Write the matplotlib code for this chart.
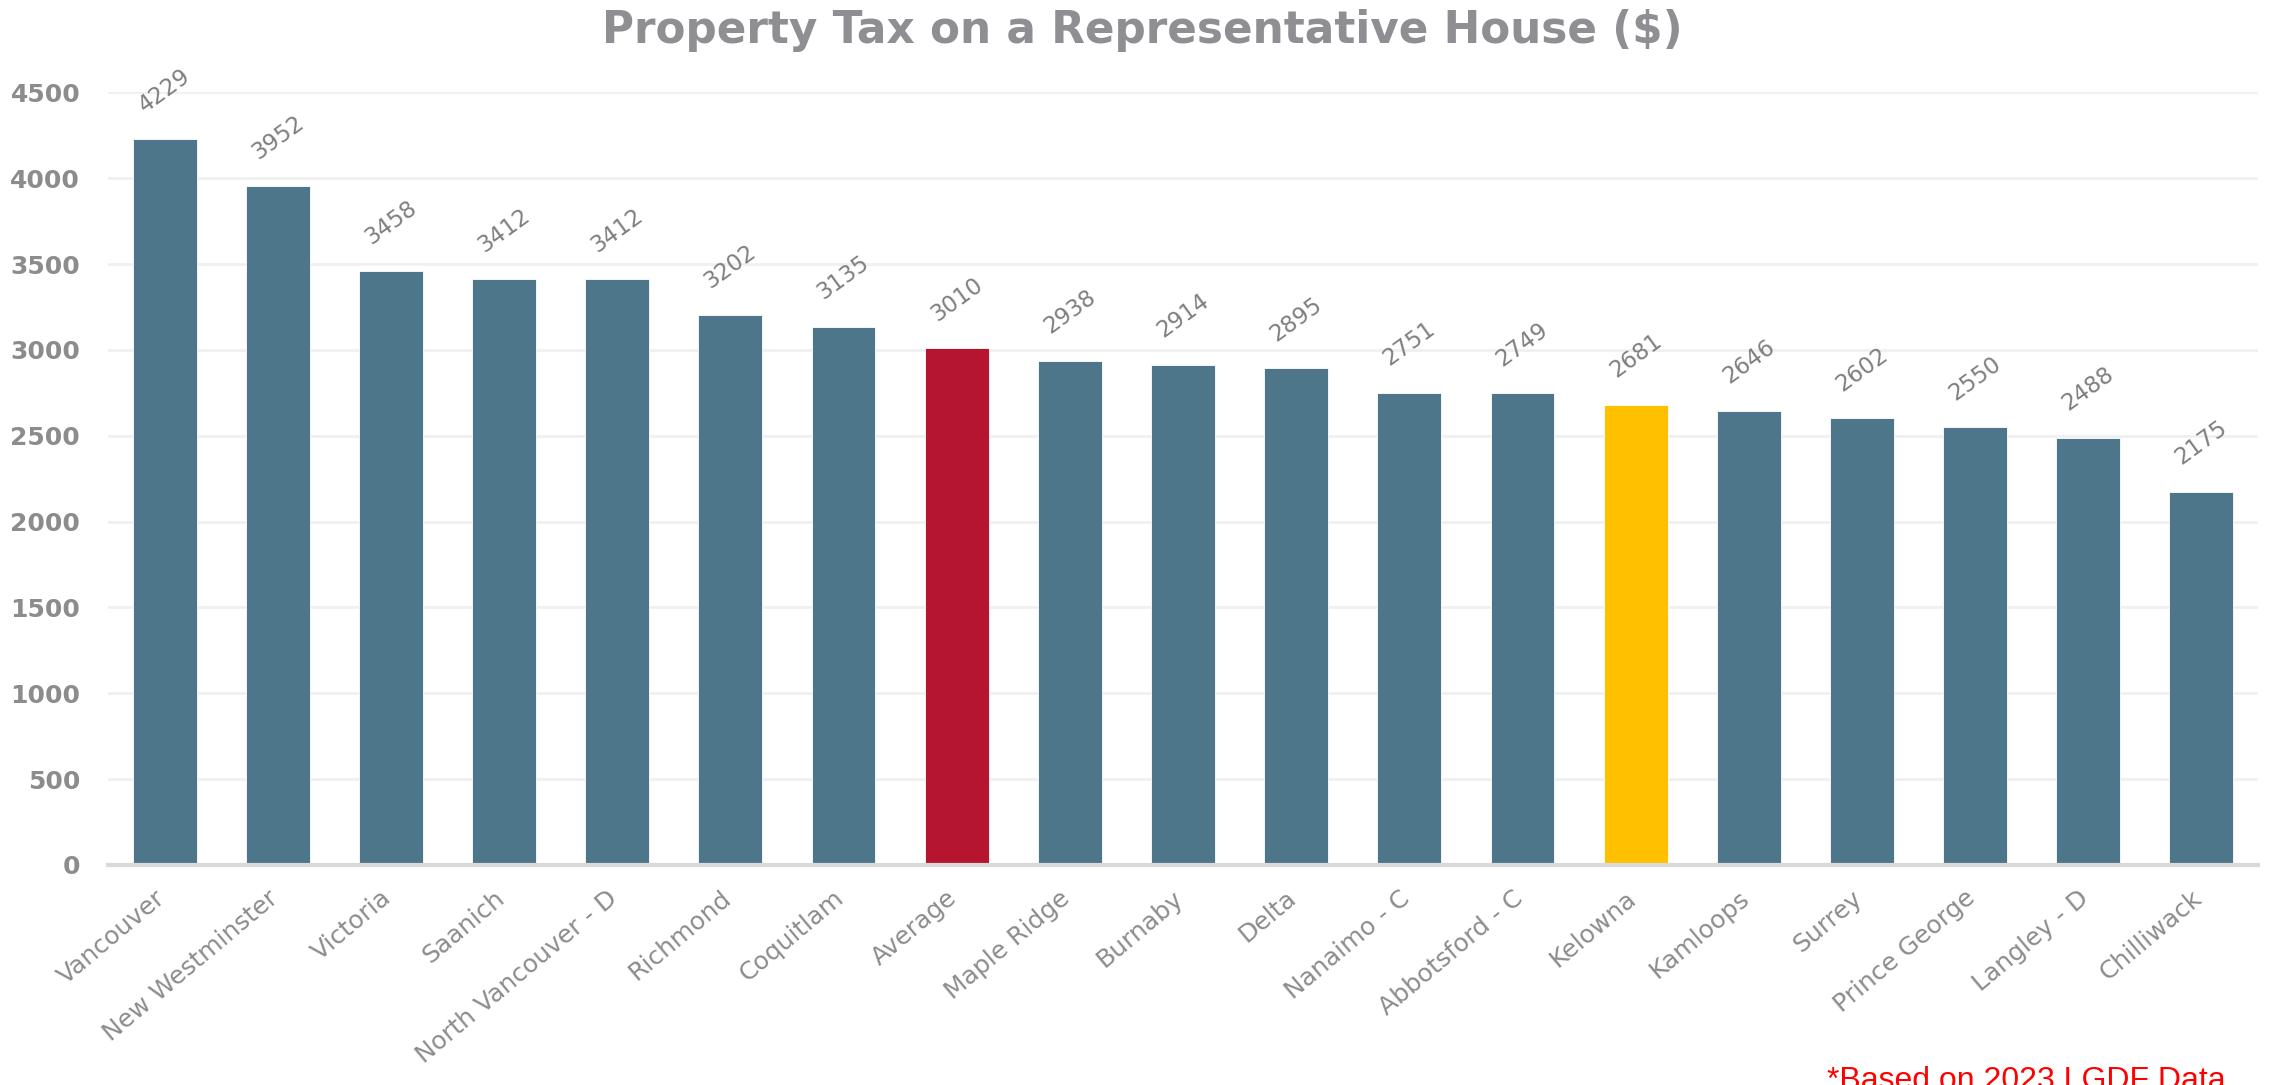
import matplotlib.pyplot as plt
import matplotlib.transforms as mtransforms
import numpy as np

# data
cities = ["Vancouver", "New Westminster", "Victoria", "Saanich", "North Vancouver - D",
          "Richmond", "Coquitlam", "Average", "Maple Ridge", "Burnaby", "Delta",
          "Nanaimo - C", "Abbotsford - C", "Kelowna", "Kamloops", "Surrey",
          "Prince George", "Langley - D", "Chilliwack"]
tax = [4229, 3952, 3458, 3412, 3412, 3202, 3135, 3010, 2938, 2914, 2895,
       2751, 2749, 2681, 2646, 2602, 2550, 2488, 2175]
yticks = [0, 500, 1000, 1500, 2000, 2500, 3000, 3500, 4000, 4500]

base_color = "#4e768a"
highlight = {"Average": "#b5152f", "Kelowna": "#ffc000"}
colors = [highlight.get(c, base_color) for c in cities]

plt.rcParams['font.family'] = ['DejaVu Sans']

fig = plt.figure(figsize=(22.7, 10.85), dpi=100)
ax = fig.add_axes([108/2270, 1 - 865/1085, 2150/2270, (865 - 92.3)/1085])

x = np.arange(len(cities))
ax.bar(x, tax, width=0.565, color=colors, edgecolor="#ffffff", linewidth=0.6, zorder=3)

# value labels, rotated above the bars
for xi, v in zip(x, tax):
    ax.annotate(str(v), (xi, v), xytext=(0, 35), textcoords="offset points",
                ha="center", va="center", rotation=36, rotation_mode="anchor",
                fontsize=16.5, color="#7f7f7f", annotation_clip=False)

ax.set_xlim(-0.5, len(cities) - 0.5)
ax.set_ylim(0, 4500)
ax.set_yticks(yticks)
ax.set_yticklabels([str(t) for t in yticks], fontsize=18, fontweight="bold", color="#8c8c8c")
ax.tick_params(axis="y", length=0, pad=20)
ax.tick_params(axis="x", length=0, pad=15)

ax.set_xticks(x)
ax.set_xticklabels(cities, rotation=40, ha="right", va="top",
                   fontsize=18, color="#8c8c8c")
shift = mtransforms.ScaledTranslation(0.05, 0, fig.dpi_scale_trans)
for lbl in ax.get_xticklabels():
    lbl.set_transform(lbl.get_transform() + shift)

ax.grid(axis="y", color="#f0f0f0", linewidth=2, zorder=0)
ax.set_axisbelow(True)
for side in ["top", "right", "left"]:
    ax.spines[side].set_visible(False)
ax.spines["bottom"].set_color("#d9d9d9")
ax.spines["bottom"].set_linewidth(3)
ax.spines["bottom"].set_zorder(4)

fig.text(1142/2270, 1 - 31/1085, "Property Tax on a Representative House ($)",
         ha="center", va="center", fontsize=31.5, fontweight="bold", color="#8e8e93")

fig.text(1827/2270, 1 - 1066/1085, "*Based on 2023 LGDF Data", ha="left", va="top",
         fontsize=23, color="#ff0000", family="Liberation Sans")

fig.savefig("out.png", dpi=100)
